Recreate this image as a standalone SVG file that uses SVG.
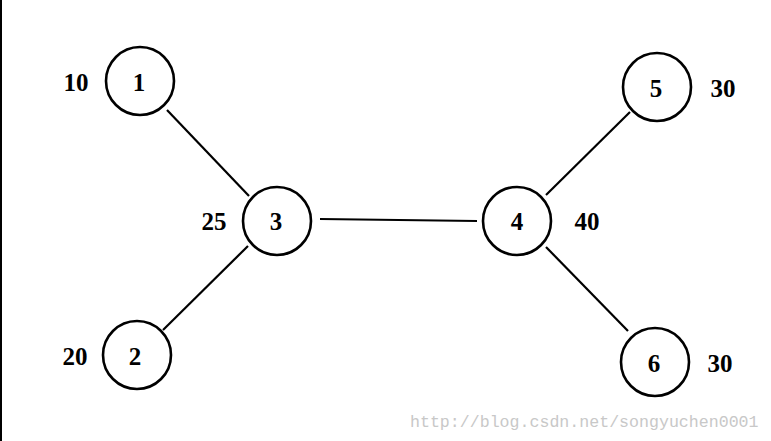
<svg xmlns="http://www.w3.org/2000/svg" width="771" height="441" viewBox="0 0 771 441">
<style>
.n circle{fill:#fff;stroke:#000;stroke-width:2.6}
.n text{font-family:"Liberation Serif",serif;font-weight:bold;font-size:25px;fill:#000;text-anchor:middle;dominant-baseline:central}
.e line{stroke:#000;stroke-width:2.2}
.wm{font-family:"Liberation Mono",monospace;font-size:16.6px;fill:#c8c8c8}
</style>
<rect width="771" height="441" fill="#fff"/>
<line x1="1" y1="0" x2="1" y2="441" stroke="#000" stroke-width="2"/>
<g id="edges" class="e">
<line x1="167" y1="110" x2="249" y2="196"/>
<line x1="163" y1="330" x2="248" y2="246"/>
<line x1="320" y1="219" x2="477" y2="221"/>
<line x1="546" y1="195" x2="630" y2="112"/>
<line x1="546" y1="247" x2="628" y2="331"/>
</g>
<g id="node1" class="n"><circle cx="140" cy="81" r="34"/><text x="139" y="82">1</text><text x="76" y="82">10</text></g>
<g id="node2" class="n"><circle cx="137" cy="355" r="34"/><text x="135" y="356">2</text><text x="75" y="356">20</text></g>
<g id="node3" class="n"><circle cx="277" cy="221" r="34"/><text x="276" y="221">3</text><text x="214" y="221">25</text></g>
<g id="node4" class="n"><circle cx="517" cy="221" r="34"/><text x="517" y="221">4</text><text x="587" y="221">40</text></g>
<g id="node5" class="n"><circle cx="657" cy="87" r="34"/><text x="656" y="88">5</text><text x="723" y="88">30</text></g>
<g id="node6" class="n"><circle cx="655" cy="362" r="34"/><text x="654" y="363">6</text><text x="720" y="363">30</text></g>
<text class="wm" x="410" y="427">http://blog.csdn.net/songyuchen0001</text>
</svg>
